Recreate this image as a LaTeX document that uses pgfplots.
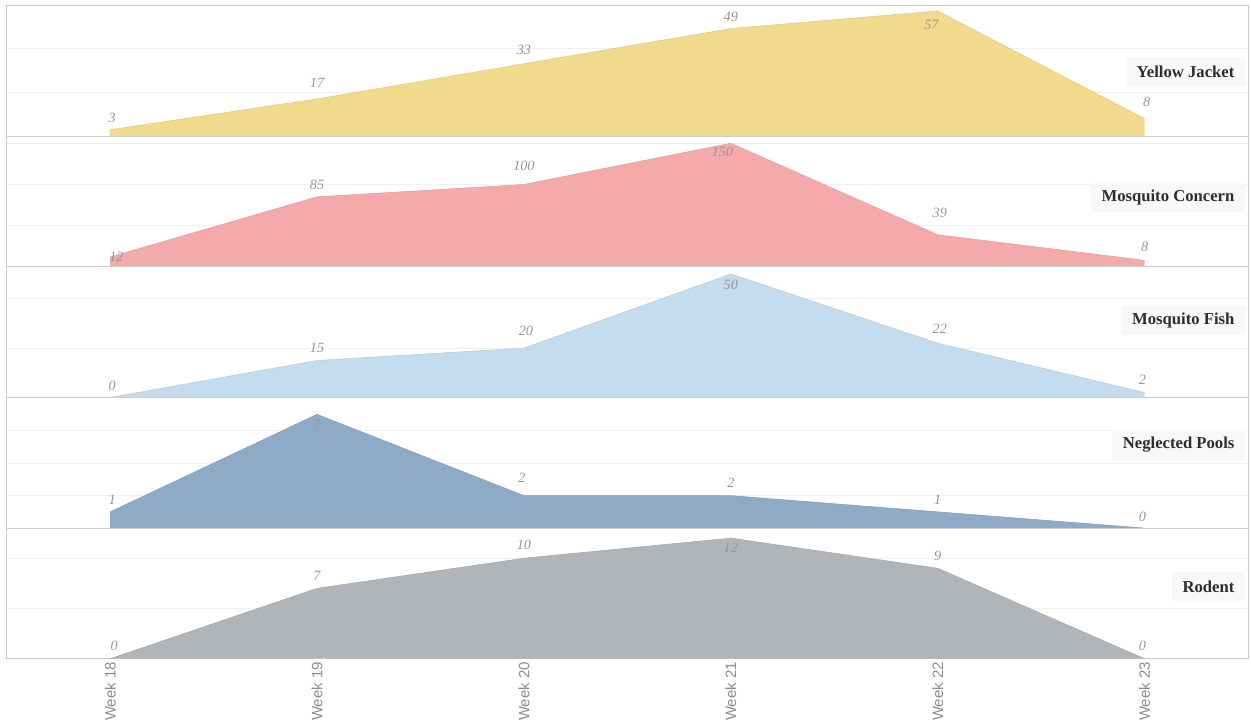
\documentclass[border=0pt]{standalone}
\usepackage{pgfplots}
\usepackage{pgfplotstable}
\pgfplotsset{compat=1.18}
\usepackage{fontspec}
\setmainfont{Liberation Serif}
\newfontfamily\tickfont{Liberation Sans}

\definecolor{cY}{RGB}{241,218,139}
\definecolor{cP}{RGB}{244,170,170}
\definecolor{cL}{RGB}{195,220,238}
\definecolor{cS}{RGB}{143,170,199}
\definecolor{cG}{RGB}{177,181,185}
\definecolor{gridc}{RGB}{240,240,240}
\definecolor{framec}{RGB}{205,205,205}
\definecolor{labc}{RGB}{150,150,150}
\definecolor{tickc}{RGB}{140,140,140}
\definecolor{boxc}{RGB}{247,248,249}
\definecolor{catc}{RGB}{45,45,45}

\pgfplotstableread{
x y lx ly v
18 3 18.01 8.3 3
19 17 19.0 24.2 17
20 33 20.0 39.2 33
21 49 21.0 54.2 49
22 57 21.97 50.6 57
23 8 23.01 15.7 8
}\tYJ
\pgfplotstableread{
x y lx ly v
18 12 18.03 12.2 12
19 85 19.0 100 85
20 100 20.0 122 100
21 150 20.96 139 150
22 39 22.01 65.9 39
23 8 23.0 24.4 8
}\tMC
\pgfplotstableread{
x y lx ly v
18 0 18.01 4.9 0
19 15 19.0 20.1 15
20 20 20.01 27.1 20
21 50 21.0 45.7 50
22 22 22.01 28.0 22
23 2 22.99 7.3 2
}\tMF
\pgfplotstableread{
x y lx ly v
18 1 18.01 1.75 1
19 7 19.0 6.35 7
20 2 19.99 3.07 2
21 2 21.0 2.76 2
22 1 22.0 1.75 1
23 0 22.99 0.72 0
}\tNP
\pgfplotstableread{
x y lx ly v
18 0 18.02 1.26 0
19 7 19.0 8.23 7
20 10 20.0 11.33 10
21 12 21.0 11.03 12
22 9 22.0 10.23 9
23 0 22.99 1.26 0
}\tRO

\pgfplotsset{
  panel/.style={
    scale only axis, width=744.8pt, height=78.4pt,
    xmin=17.5, xmax=23.5,
    xtick={18,...,23}, xticklabels={},
    major tick length=0pt,
    ymin=0, yticklabels={},
    ymajorgrids, grid style={color=gridc, line width=0.5pt},
    axis line style={color=framec, line width=0.6pt},
    clip=false, anchor=south west,
  },
  labs/.style={draw=none, mark=none, nodes near coords,
    point meta=explicit symbolic,
    nodes near coords style={anchor=center, inner sep=0pt,
      font=\fontsize{8.5}{9}\selectfont\itshape, text=labc}},
}
\tikzset{
  catlab/.style={anchor=east, fill=boxc, inner xsep=6.5pt,
    minimum height=17.5pt, text=catc,
    font=\bfseries\fontsize{10}{12}\selectfont},
}

\begin{document}
\begin{tikzpicture}
% Yellow Jacket
\begin{axis}[panel, at={(4.02pt,-81.8pt)}, ymax=59.4, ytick={20,40}]
\addplot[fill=cY, draw=none] table[x=x,y=y] {\tYJ} \closedcycle;
\addplot[cY!92!black, line width=0.3pt, mark=none] table[x=x,y=y] {\tYJ};
\addplot[labs] table[x=lx,y=ly,meta=v] {\tYJ};
\node[catlab] at (rel axis cs:0.998,0.496) {Yellow Jacket};
\end{axis}
% Mosquito Concern
\begin{axis}[panel, at={(4.02pt,-160.14pt)}, ymax=158.5, ytick={50,100,150}]
\addplot[fill=cP, draw=none] table[x=x,y=y] {\tMC} \closedcycle;
\addplot[cP!92!black, line width=0.3pt, mark=none] table[x=x,y=y] {\tMC};
\addplot[labs] table[x=lx,y=ly,meta=v] {\tMC};
\node[catlab] at (rel axis cs:0.998,0.528) {Mosquito Concern};
\end{axis}
% Mosquito Fish
\begin{axis}[panel, at={(4.02pt,-238.5pt)}, ymax=52.9, ytick={20,40}]
\addplot[fill=cL, draw=none] table[x=x,y=y] {\tMF} \closedcycle;
\addplot[cL!92!black, line width=0.3pt, mark=none] table[x=x,y=y] {\tMF};
\addplot[labs] table[x=lx,y=ly,meta=v] {\tMF};
\node[catlab] at (rel axis cs:0.998,0.590) {Mosquito Fish};
\end{axis}
% Neglected Pools
\begin{axis}[panel, at={(4.02pt,-316.86pt)}, ymax=8.04, ytick={2,4,6}]
\addplot[fill=cS, draw=none] table[x=x,y=y] {\tNP} \closedcycle;
\addplot[cS!92!black, line width=0.3pt, mark=none] table[x=x,y=y] {\tNP};
\addplot[labs] table[x=lx,y=ly,meta=v] {\tNP};
\node[catlab] at (rel axis cs:0.998,0.636) {Neglected Pools};
\end{axis}
% Rodent
\begin{axis}[panel, at={(4.02pt,-395.22pt)}, ymax=13.0, ytick={5,10},
  xticklabels={Week 18,Week 19,Week 20,Week 21,Week 22,Week 23},
  xticklabel style={rotate=90, anchor=east, inner sep=1.8pt,
    font=\tickfont\fontsize{9}{10}\selectfont, text=tickc}]
\addplot[fill=cG, draw=none] table[x=x,y=y] {\tRO} \closedcycle;
\addplot[cG!92!black, line width=0.3pt, mark=none] table[x=x,y=y] {\tRO};
\addplot[labs] table[x=lx,y=ly,meta=v] {\tRO};
\node[catlab] at (rel axis cs:0.998,0.553) {Rodent};
\end{axis}
\pgfresetboundingbox
\path[use as bounding box] (0,0) rectangle (750.6pt,-433.8pt);
\end{tikzpicture}
\end{document}
